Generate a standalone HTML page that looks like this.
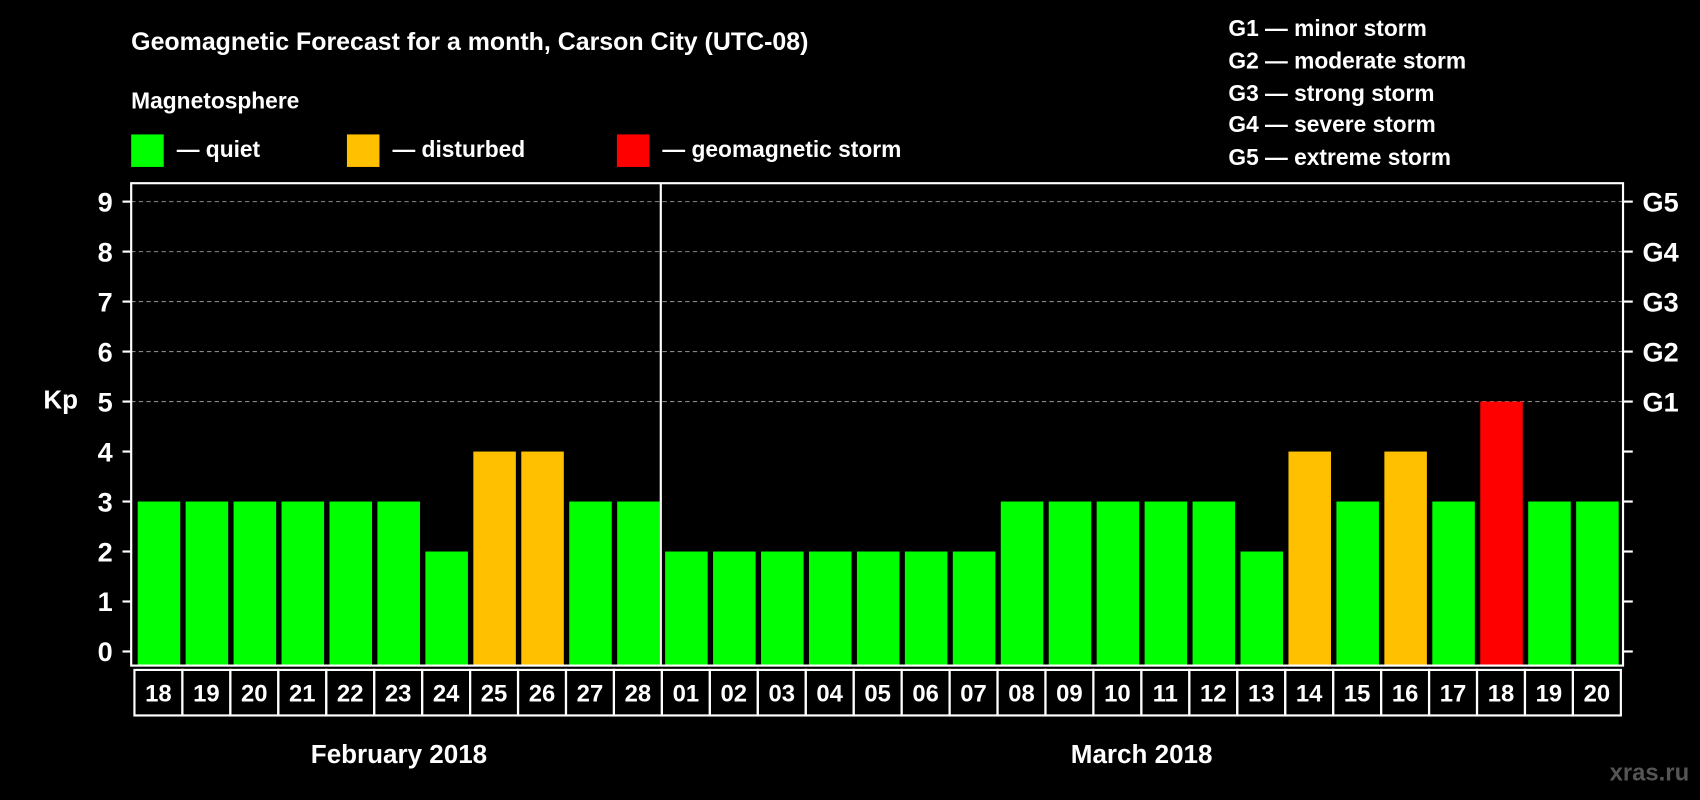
<!DOCTYPE html>
<html><head><meta charset="utf-8"><style>body{margin:0;background:#000}svg{display:block}text{font-family:"Liberation Sans",Arial,sans-serif;font-weight:bold;fill:#fff}</style></head>
<body>
<svg id="chart" width="1700" height="800" viewBox="0 0 1568 738" preserveAspectRatio="none" xmlns="http://www.w3.org/2000/svg">
<rect width="1568" height="738" fill="#000"/>
<text x="121" y="46" font-size="23">Geomagnetic Forecast for a month, Carson City (UTC-08)</text>
<text x="121" y="100" font-size="21">Magnetosphere</text>
<g><rect x="121" y="124" width="30" height="30" fill="#00ff00"/><text x="163" y="145" font-size="21">— quiet</text></g>
<g><rect x="320" y="124" width="30" height="30" fill="#ffc000"/><text x="362" y="145" font-size="21">— disturbed</text></g>
<g><rect x="569" y="124" width="30" height="30" fill="#ff0000"/><text x="611" y="145" font-size="21">— geomagnetic storm</text></g>
<g font-size="21">
<text x="1133" y="33">G1 — minor storm</text><text x="1133" y="63">G2 — moderate storm</text><text x="1133" y="93">G3 — strong storm</text><text x="1133" y="122">G4 — severe storm</text><text x="1133" y="152">G5 — extreme storm</text></g>
<text x="40" y="377" font-size="24">Kp</text>
<g id="grid"></g><g id="bars"></g><g id="axes"></g>
<text x="368" y="704" font-size="24" text-anchor="middle">February 2018</text>
<text x="1053" y="704" font-size="24" text-anchor="middle">March 2018</text>
<text x="1558" y="720" font-size="22" text-anchor="end" style="fill:#555">xras.ru</text>
</svg>
<script>
const days = ["18","19","20","21","22","23","24","25","26","27","28","01","02","03","04","05","06","07","08","09","10","11","12","13","14","15","16","17","18","19","20"];
const kpValues = [3,3,3,3,3,3,2,4,4,3,3,2,2,2,2,2,2,2,3,3,3,3,3,2,4,3,4,3,5,3,3];
const yTicks = [0,1,2,3,4,5,6,7,8,9];
const gLabels = ["G1","G2","G3","G4","G5"];
const NS="http://www.w3.org/2000/svg";
const X0=124, X1=1495, FL=121, FR=1497, FT=169, FB=614;
const pitch=(X1-X0)/days.length;
function y(v){return 601-v*(601-186)/9;}
function xs(i){return X0+i*pitch;}
function mk(tag,attrs,parent){const e=document.createElementNS(NS,tag);for(const k in attrs)e.setAttribute(k,attrs[k]);parent.appendChild(e);return e;}
const grid=document.getElementById('grid'),bars=document.getElementById('bars'),axes=document.getElementById('axes');
yTicks.forEach(t=>{
  if(t>=5){const l=mk('line',{x1:FL,x2:FR,y1:y(t),y2:y(t),stroke:'#888','stroke-dasharray':'4 3','stroke-width':1},grid);
  
  }
  const tl=mk('line',{x1:FL-8,x2:FL,y1:y(t),y2:y(t),stroke:'#fff','stroke-width':2},axes);
  
  
  const tr=mk('line',{x1:FR,x2:FR+9,y1:y(t),y2:y(t),stroke:'#fff','stroke-width':2},axes);
  
  
  const tx=mk('text',{x:104,y:y(t)+9,'font-size':25,'text-anchor':'end'},axes);tx.textContent=t;
  
  
});
gLabels.forEach((g,i)=>{const t=mk('text',{x:1515,y:y(5+i)+9,'font-size':25},axes);t.textContent=g;
  
  });
kpValues.forEach((v,i)=>{
  const c=v>=5?'#ff0000':(v>=4?'#ffc000':'#00ff00');
  const r=mk('rect',{x:xs(i)+3,y:y(v),width:pitch-5,height:FB-y(v),fill:c},bars);
  
  
  const b=mk('rect',{x:xs(i),y:618,width:pitch,height:42,fill:'none',stroke:'#fff','stroke-width':2},axes);
  
  
  const t=mk('text',{x:xs(i)+pitch/2,y:647,'font-size':22,'text-anchor':'middle'},axes);t.textContent=days[i];
  
  
});
const f=mk('rect',{x:FL,y:FT,width:FR-FL,height:FB-FT,fill:'none',stroke:'#fff','stroke-width':2},axes);


const d=mk('line',{x1:xs(11)-1,x2:xs(11)-1,y1:FT,y2:FB,stroke:'#fff','stroke-width':2},axes);


</script>
</body></html>
